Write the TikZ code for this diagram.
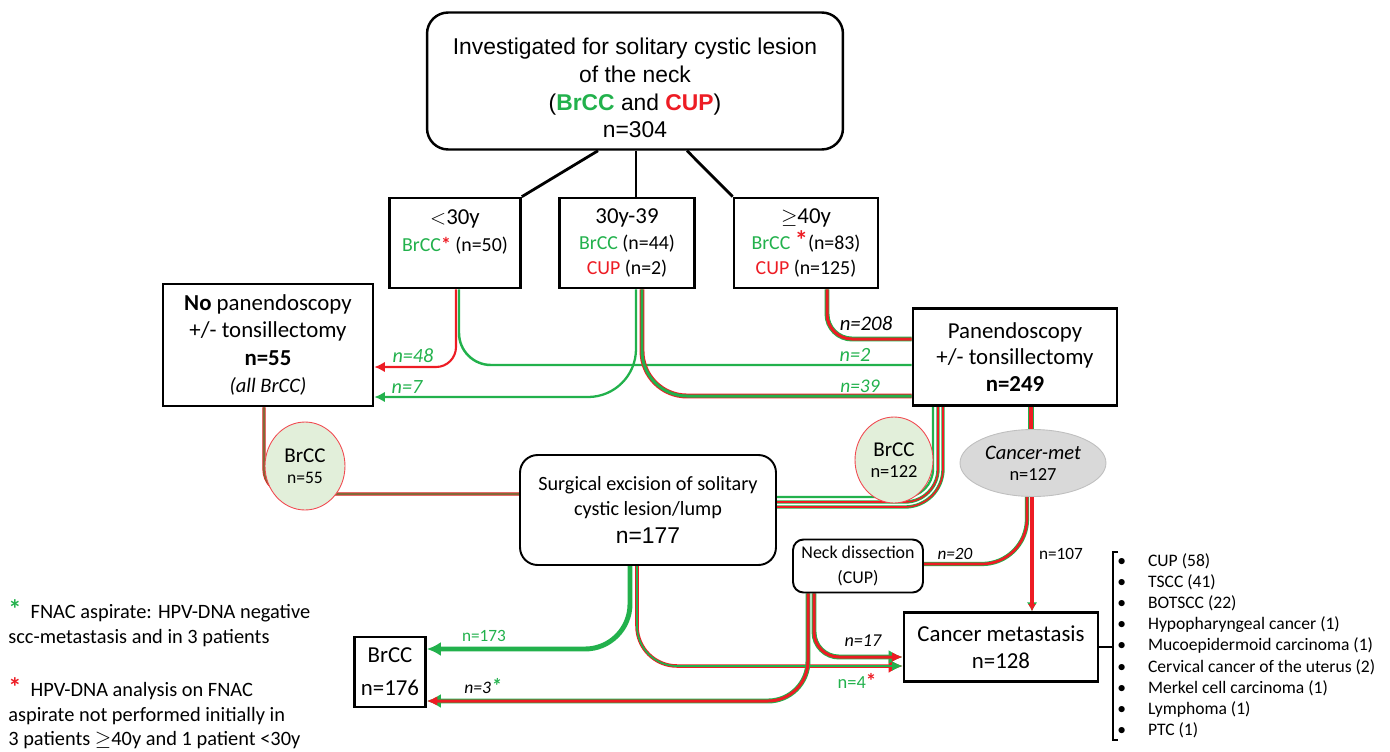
\documentclass[tikz,border=0pt]{standalone}
\usepackage{fontspec}
\setmainfont{Carlito}
\newfontfamily\arialfont{Liberation Sans}
\usetikzlibrary{arrows.meta,shapes.geometric}

\definecolor{grn}{RGB}{34,177,76}
\definecolor{rd}{RGB}{237,28,36}
\definecolor{mud}{RGB}{130,105,55}
\definecolor{cellgreen}{RGB}{226,239,218}
\definecolor{metgray}{RGB}{217,217,217}

\pgfdeclarelayer{bg}
\pgfsetlayers{bg,main}

\tikzset{
  sqbox/.style={draw,line width=1.5pt,align=center,inner sep=0pt},
  rbox/.style={draw,line width=1.1pt,rounded corners=8pt,align=center,inner sep=0pt},
  cell/.style={ellipse,draw=rd!80,fill=cellgreen,line width=0.5pt,align=center,inner sep=0pt,minimum width=1.6cm,minimum height=1.76cm},
  rim g/.style={grn,line width=2.8pt},  % green rim under a red line
  core r/.style={rd,line width=1.7pt},
  rim r/.style={rd,line width=2.8pt},   % red rim under a green line
  core g/.style={grn,line width=1.7pt},
  big tip/.style={-{Latex[length=8pt,width=8pt]}},
  small tip/.style={-{Latex[length=6pt,width=5.5pt]}},
  lab/.style={font=\fontsize{11.5}{13}\selectfont\itshape,inner sep=0pt},
}

\begin{document}
\begin{tikzpicture}[x=0.02cm,y=-0.02cm]
  \useasboundingbox (0,0) rectangle (1390,751);

  % start
  \node[rbox,line width=1.4pt,rounded corners=12pt,minimum width=8.32cm,minimum height=2.74cm] (top) at (635,81) {};
  \node[align=center,font=\arialfont\fontsize{13}{15.8}\selectfont] (toptxt) at (635,88) {Investigated for solitary cystic lesion\\of the neck\\(\textcolor{grn}{\textbf{BrCC}} and \textcolor{rd}{\textbf{CUP}})\\n=304};

  % age groups
  \node[sqbox,minimum width=2.62cm,minimum height=1.8cm,font=\fontsize{11.3}{14.2}\selectfont] (age1) at (455,243) {{\fontsize{13}{16}\selectfont$<$30y}\\[1pt]\textcolor{grn}{BrCC}\textcolor{rd}{\textbf{*}} (n=50)\\\phantom{CUP}};
  \node[sqbox,minimum width=2.7cm,minimum height=1.8cm,font=\fontsize{11.3}{14.2}\selectfont] (age2) at (627,243) {{\fontsize{13}{16}\selectfont 30y-39}\\[1pt]\textcolor{grn}{BrCC} (n=44)\\\textcolor{rd}{CUP} (n=2)};
  \node[sqbox,minimum width=2.88cm,minimum height=1.8cm,font=\fontsize{11.3}{14.2}\selectfont] (age3) at (806,243) {{\fontsize{13}{16}\selectfont$\geq$40y}\\[1pt]\textcolor{grn}{BrCC} \textcolor{rd}{\smash{\fontsize{15}{14}\selectfont\textbf{*}}}(n=83)\\\textcolor{rd}{CUP} (n=125)};

  % panendoscopy or not
  \node[sqbox,minimum width=4.2cm,minimum height=2.44cm,font=\fontsize{13}{15.5}\selectfont] (nopan) at (268,345) {\textbf{No} panendoscopy\\+/- tonsillectomy\\\textbf{n=55}\\{\fontsize{11.7}{14}\selectfont\itshape (all BrCC)}};
  \node[sqbox,minimum width=4.08cm,minimum height=1.94cm,font=\fontsize{13}{15}\selectfont] (pan) at (1015,357) {Panendoscopy\\+/- tonsillectomy\\\textbf{n=249}};

  % subgroups
  \node[cell] (b55) at (305,466) {{\fontsize{12}{14}\selectfont BrCC}\\{\fontsize{10}{12}\selectfont n=55}};
  \node[cell,minimum width=1.56cm,minimum height=1.72cm] (b122) at (894,460) {{\fontsize{12}{14}\selectfont BrCC}\\{\fontsize{10.5}{12}\selectfont n=122}};
  \node[ellipse,draw=black!25,fill=metgray,line width=0.5pt,minimum width=2.92cm,minimum height=1.34cm,align=center,inner sep=0pt] (cmet) at (1033,463) {{\fontsize{11.7}{14}\selectfont\itshape Cancer-met}\\{\fontsize{10.5}{12}\selectfont n=127}};

  % treatment
  \node[rbox,rounded corners=10pt,minimum width=5.12cm,minimum height=2.2cm,font=\fontsize{11.5}{14.2}\selectfont] (surg) at (648,510) {Surgical excision of solitary\\cystic lesion/lump\\[2pt]{\arialfont\fontsize{13}{15}\selectfont n=177}};
  \node[rbox,rounded corners=6pt,minimum width=2.6cm,minimum height=1.06cm,font=\fontsize{10.2}{14.2}\selectfont] (neck) at (858,566) {Neck dissection\\(CUP)};

  % outcome
  \node[sqbox,minimum width=3.88cm,minimum height=1.38cm,font=\fontsize{13}{15.3}\selectfont] (cmeta) at (1001,647) {Cancer metastasis\\n=128};
  \node[sqbox,minimum width=1.42cm,minimum height=1.4cm,font=\fontsize{13}{18.7}\selectfont] (b176) at (390,672) {BrCC\\n=176};

  % counts on the lines
  \node[lab,text=grn] (l48) at (413,356) {n=48};
  \node[lab,text=grn] (l7) at (407,387) {n=7};
  \node[lab,font=\fontsize{11.8}{13}\selectfont\itshape] (l208) at (866,323) {n=208};
  \node[lab,text=grn] (l2) at (855,355) {n=2};
  \node[lab,text=grn,font=\fontsize{11}{13}\selectfont\itshape] (l39) at (860,386) {n=39};
  \node[lab,font=\fontsize{9.8}{12}\selectfont\itshape] (l20) at (955,554) {n=20};
  \node[lab,font=\fontsize{9.8}{12}\selectfont] (l107) at (1061,554) {n=107};
  \node[lab,text=grn,font=\fontsize{9.8}{12}\selectfont] (l173) at (484,636) {n=173};
  \node[lab,font=\fontsize{10}{12}\selectfont\itshape] (l3) at (483,686) {n=3\textcolor{grn}{{\fontsize{12}{12}\selectfont\textbf{*}}}};
  \node[lab,font=\fontsize{10.3}{12}\selectfont\itshape] (l17) at (863,641) {n=17};
  \node[lab,text=grn,font=\fontsize{10.5}{12}\selectfont] (l4) at (857,681) {n=4\textcolor{rd}{{\fontsize{12}{12}\selectfont\textbf{*}}}};

  \begin{pgfonlayer}{bg}
    \draw[line width=1.6pt] (top.south -| 598,0) -- (age1.north east);
    \draw[line width=1.6pt] (top.south -| 636,0) -- (age2.north -| 636,0);
    \draw[line width=1.6pt] (top.south -| 687,0) -- (age3.north west);

    \draw[rd,line width=1.2pt,rounded corners=0.4cm,-{Latex[length=6pt,width=6pt]}] (age1.south -| 456,0) |- (nopan.east |- 0,367);
    \draw[grn,line width=1.4pt,rounded corners=0.64cm] (age1.south -| 459,0) |- (pan.west |- 0,365);
    \draw[grn,line width=1.3pt,rounded corners=0.96cm,-{Latex[length=6pt,width=6pt]}] (age2.south -| 636,0) |- (nopan.east |- 0,397);
    \draw[rim r,rounded corners=0.9cm] (age2.south -| 642,0) |- (pan.west |- 0,396);
    \draw[core g,rounded corners=0.9cm] (age2.south -| 642,0) |- (pan.west |- 0,396);
    \draw[rim g,rounded corners=0.5cm] (age3.south -| 827,0) |- (pan.west |- 0,339);
    \draw[core r,rounded corners=0.5cm] (age3.south -| 827,0) |- (pan.west |- 0,339);

    % BrCC to excision
    \draw[rd,line width=1.9pt,rounded corners=0.5cm] (nopan.south -| 264,0) |- (surg.west |- 0,494);
    \draw[mud,line width=1.2pt,rounded corners=0.5cm] (nopan.south -| 264,0) |- (surg.west |- 0,494);
    \draw[grn,line width=1.3pt,rounded corners=0.56cm] (pan.south -| 933,0) |- (surg.east |- 0,497);
    \draw[rim g,line width=1.9pt,rounded corners=0.66cm] (pan.south -| 938,0) |- (surg.east |- 0,502);
    \draw[core r,line width=0.9pt,rounded corners=0.66cm] (pan.south -| 938,0) |- (surg.east |- 0,502);
    \draw[rim g,line width=1.9pt,rounded corners=0.76cm] (pan.south -| 943,0) |- (surg.east |- 0,507);
    \draw[core r,line width=0.9pt,rounded corners=0.76cm] (pan.south -| 943,0) |- (surg.east |- 0,507);

    % cancer branch
    \draw[rim g,line width=3.2pt] (pan.south -| 1031,0) -- (cmet.north -| 1031,0);
    \draw[core r,line width=2pt] (pan.south -| 1031,0) -- (cmet.north -| 1031,0);
    \draw[rim g,line width=2.4pt,rounded corners=0.9cm] (cmet.south -| 1027,0) |- (neck.east |- 0,564);
    \draw[core r,line width=1.5pt,rounded corners=0.9cm] (cmet.south -| 1027,0) |- (neck.east |- 0,564);
    \draw[rim g,line width=2.6pt,-{Latex[length=5pt,width=6pt]}] (cmet.south -| 1032,0) -- (cmeta.north -| 1032,0);
    \draw[core r,line width=1.8pt,-{Latex[length=4pt,width=4.5pt]}] (cmet.south -| 1032,0) -- (cmeta.north -| 1032,0);

    % after excision
    \draw[grn,line width=2.8pt,rounded corners=0.9cm,big tip] (surg.south -| 630,0) |- (b176.east |- 0,649);
    \draw[rim r,line width=2pt,rounded corners=0.8cm,big tip] (surg.south -| 637,0) |- (cmeta.west |- 0,666);
    \draw[core g,line width=1pt,rounded corners=0.8cm,small tip] (surg.south -| 637,0) |- (cmeta.west |- 0,666);

    % after neck dissection
    \draw[rim g,rounded corners=0.5cm,big tip] (neck.south -| 814,0) |- (cmeta.west |- 0,657);
    \draw[core r,rounded corners=0.5cm,small tip] (neck.south -| 814,0) |- (cmeta.west |- 0,657);
    \draw[rim g,rounded corners=0.8cm,big tip] (neck.south -| 808,0) |- (b176.east |- 0,701);
    \draw[core r,rounded corners=0.8cm,small tip] (neck.south -| 808,0) |- (b176.east |- 0,701);
  \end{pgfonlayer}

  % diagnoses
  \draw[line width=1.2pt] (cmeta.east) -- (cmeta.east -| 1113,0);
  \draw[line width=1.2pt] (1118,552) -- (1113,552) -- (1113,740) -- (1118,740);
  \foreach \kind [count=\i] in {{CUP (58)},{TSCC (41)},{BOTSCC (22)},{Hypopharyngeal cancer (1)},{Mucoepidermoid carcinoma (1)},{Cervical cancer of the uterus (2)},{Merkel cell carcinoma (1)},{Lymphoma (1)},{PTC (1)}}
    \node[anchor=west,inner sep=0pt,font=\fontsize{10}{12}\selectfont] (it\i) at (1117,{561+21.2*(\i-1)}) {\makebox[17.5pt][l]{\textbullet}\kind};

  % footnotes
  \node[anchor=north west,align=left,inner sep=0pt,font=\fontsize{11.6}{14.2}\selectfont] (fn1) at (8,604) {\textcolor{grn}{\smash{\fontsize{15}{14}\selectfont\textbf{*}}}\ \ FNAC aspirate: HPV-DNA negative\\scc-metastasis and in 3 patients};
  \node[anchor=north west,align=left,inner sep=0pt,font=\fontsize{11.6}{14}\selectfont] (fn2) at (8,682) {\textcolor{rd}{\smash{\fontsize{15}{14}\selectfont\textbf{*}}}\ \ HPV-DNA analysis on FNAC\\aspirate not performed initially in\\3 patients $\geq$40y and 1 patient <30y};
\end{tikzpicture}
\end{document}
